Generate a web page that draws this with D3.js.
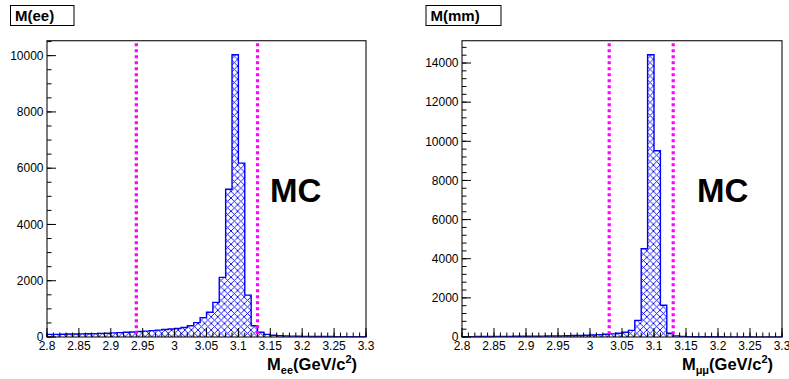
<!DOCTYPE html>
<html><head><meta charset="utf-8">
<script src="https://cdn.jsdelivr.net/npm/d3@7"></script>
<style>body{margin:0;background:#fff}svg{display:block}</style>
</head><body><svg id="c" width="789" height="379"></svg>
<script>
// ---- data ----
const binWidth = 0.01;
const binStarts = [2.80,2.81,2.82,2.83,2.84,2.85,2.86,2.87,2.88,2.89,
                   2.90,2.91,2.92,2.93,2.94,2.95,2.96,2.97,2.98,2.99,
                   3.00,3.01,3.02,3.03,3.04,3.05,3.06,3.07,3.08,3.09,
                   3.10,3.11,3.12,3.13,3.14,3.15,3.16,3.17,3.18,3.19,
                   3.20,3.21,3.22,3.23,3.24,3.25,3.26,3.27,3.28,3.29];
const eeCounts = [95,95,100,105,105,110,115,120,130,135,
                  145,155,170,180,195,210,225,245,265,285,
                  300,340,400,510,690,880,1230,2120,5250,10030,
                  6180,1490,400,170,95,60,45,35,30,25,
                  22,20,18,17,16,15,15,14,13,12];
const mumuCounts = [20,20,25,25,25,30,30,30,35,35,
                    40,40,45,50,55,60,65,75,80,90,
                    105,120,140,160,190,240,340,850,4510,14420,
                    9520,1620,190,60,30,20,15,12,10,10,
                    9,8,8,7,7,6,6,5,5,5];
const xTickValues = [2.8,2.85,2.9,2.95,3,3.05,3.1,3.15,3.2,3.25,3.3];
const xTickLabels = ["2.8","2.85","2.9","2.95","3","3.05","3.1","3.15","3.2","3.25","3.3"];
const eeYTicks = [0,2000,4000,6000,8000,10000];
const mumuYTicks = [0,2000,4000,6000,8000,10000,12000,14000];
const eeCuts = [2.94, 3.13];
const mumuCuts = [3.03, 3.13];
const titles = ["M(ee)", "M(mm)"];
const subs = ["ee", "\u03bc\u03bc"];

const svg = d3.select("#c");
const FONT = "'Liberation Sans', Arial, Helvetica, sans-serif";

const defs = svg.append("defs");
const pat = defs.append("pattern").attr("id","hatch").attr("patternUnits","userSpaceOnUse")
  .attr("width",6.6).attr("height",6.6);
pat.append("path").attr("d","M0,0L6.6,6.6M6.6,0L0,6.6")
  .attr("stroke","#0000ff").attr("stroke-width",0.9).attr("fill","none");

function panel(cfg){
  const g = svg.append("g");
  const x = d3.scaleLinear().domain([2.8,3.3]).range([cfg.x0,cfg.x1]);
  const ymax = d3.max(cfg.counts)*1.05;
  const y = d3.scaleLinear().domain([0,ymax]).range([cfg.y1,cfg.y0]);

  // histogram
  const pts = [[x(binStarts[0]), y(0)]];
  binStarts.forEach((b,i)=>{
    pts.push([x(b), y(cfg.counts[i])]);
    pts.push([x(b+binWidth), y(cfg.counts[i])]);
  });
  pts.push([x(binStarts[binStarts.length-1]+binWidth), y(0)]);
  g.append("path").attr("d", d3.line()(pts))
    .attr("fill","url(#hatch)").attr("stroke","#0000ff").attr("stroke-width",1.4);

  // frame
  g.append("rect").attr("x",cfg.x0).attr("y",cfg.y0)
    .attr("width",cfg.x1-cfg.x0).attr("height",cfg.y1-cfg.y0)
    .attr("fill","none").attr("stroke","#222").attr("stroke-width",1.2);

  // x ticks
  const xMinor = d3.range(0,51).map(i=>2.8+i*0.01);
  g.selectAll(".xm").data(xMinor).enter().append("line")
    .attr("x1",d=>x(d)).attr("x2",d=>x(d)).attr("y1",cfg.y1).attr("y2",cfg.y1-4.5)
    .attr("stroke","#000").attr("stroke-width",1);
  g.selectAll(".xM").data(xTickValues).enter().append("line")
    .attr("x1",d=>x(d)).attr("x2",d=>x(d)).attr("y1",cfg.y1).attr("y2",cfg.y1-9)
    .attr("stroke","#000").attr("stroke-width",1);
  g.selectAll(".xl").data(xTickValues).enter().append("text")
    .attr("x",d=>x(d)).attr("y",cfg.y1+13).attr("text-anchor","middle")
    .attr("font-family",FONT).attr("font-size",12).text((d,i)=>xTickLabels[i]);

  // y ticks
  const yMinor = d3.range(0, ymax, cfg.minorStep);
  g.selectAll(".ym").data(yMinor).enter().append("line")
    .attr("x1",cfg.x0).attr("x2",cfg.x0+4.5).attr("y1",d=>y(d)).attr("y2",d=>y(d))
    .attr("stroke","#000").attr("stroke-width",1);
  g.selectAll(".yM").data(cfg.yTicks).enter().append("line")
    .attr("x1",cfg.x0).attr("x2",cfg.x0+9).attr("y1",d=>y(d)).attr("y2",d=>y(d))
    .attr("stroke","#000").attr("stroke-width",1);
  g.selectAll(".yl").data(cfg.yTicks).enter().append("text")
    .attr("x",cfg.x0-3.5).attr("y",d=>y(d)+4.3).attr("text-anchor","end")
    .attr("font-family",FONT).attr("font-size",12).text(d=>String(d));

  // cut lines
  g.selectAll(".cut").data(cfg.cuts).enter().append("line")
    .attr("x1",d=>x(d)).attr("x2",d=>x(d)).attr("y1",cfg.y0+2.5).attr("y2",cfg.y1)
    .attr("stroke","#ff00ff").attr("stroke-width",3.2).attr("stroke-dasharray","3,3");

  // MC label
  g.append("text").attr("x",cfg.mcX).attr("y",202).attr("font-family",FONT)
    .attr("font-weight","bold").attr("font-size",33).text("MC");

  // axis title
  const t = g.append("text").attr("x",cfg.x1-9).attr("y",370).attr("text-anchor","end")
    .attr("font-family",FONT).attr("font-weight","bold").attr("font-size",16.5);
  t.append("tspan").text("M");
  t.append("tspan").attr("font-size",11).attr("dy",4).text(cfg.sub);
  t.append("tspan").attr("dy",-4).text("(GeV/c");
  t.append("tspan").attr("font-size",11).attr("dy",-7).text("2");
  t.append("tspan").attr("dy",7).text(")");

  // title box
  g.append("rect").attr("x",cfg.boxX).attr("y",5.5).attr("width",cfg.boxW).attr("height",20)
    .attr("fill","#fff").attr("stroke","#000").attr("stroke-width",1);
  g.append("text").attr("x",cfg.boxX+4.5).attr("y",21).attr("font-family",FONT)
    .attr("font-weight","bold").attr("font-size",15).text(cfg.title);
}

panel({x0:47,x1:366,y0:40.7,y1:337,counts:eeCounts,yTicks:eeYTicks,minorStep:500,
       cuts:eeCuts,mcX:270,sub:subs[0],boxX:10.5,boxW:63.5,title:titles[0]});
panel({x0:462,x1:782,y0:40.7,y1:337,counts:mumuCounts,yTicks:mumuYTicks,minorStep:400,
       cuts:mumuCuts,mcX:697,sub:subs[1],boxX:426,boxW:75,title:titles[1]});
</script></body></html>
